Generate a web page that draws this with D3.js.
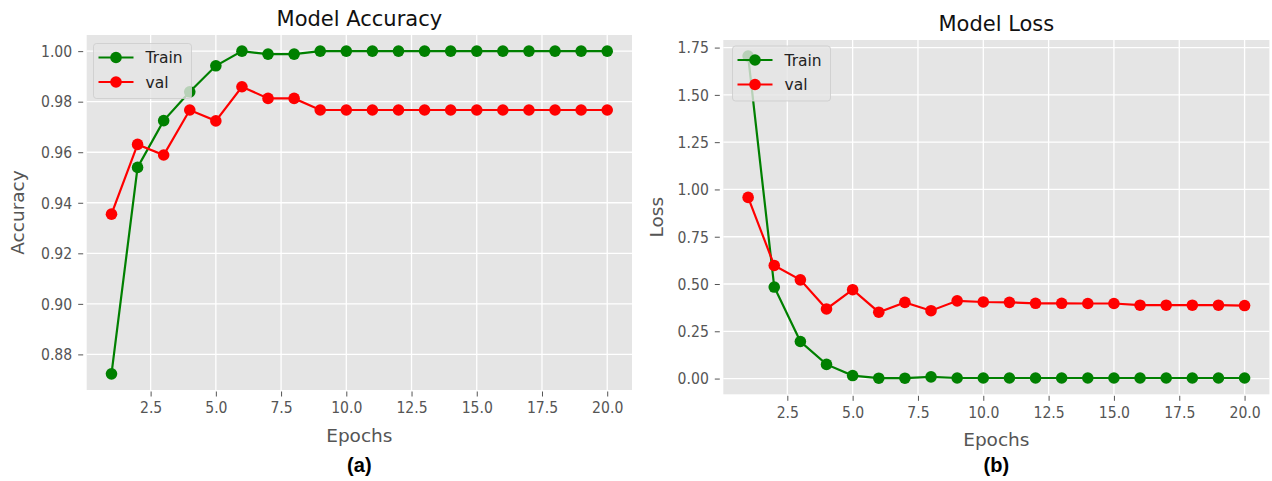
<!DOCTYPE html>
<html>
<head>
<meta charset="utf-8">
<script src="https://cdn.jsdelivr.net/npm/d3@7"></script>
<style>
  html, body { margin: 0; padding: 0; background: #fff; }
  svg { display: block; }
  text { font-family: "DejaVu Sans", sans-serif; }
</style>
</head>
<body>
<svg id="chart" width="1272" height="481"></svg>
<script>
// ---- data ----
const epochs = d3.range(1, 21);
const accTrain = [0.8723, 0.9540, 0.9725, 0.9839, 0.9942, 1.0, 0.9988, 0.9988, 1.0, 1.0,
                  1.0, 1.0, 1.0, 1.0, 1.0, 1.0, 1.0, 1.0, 1.0, 1.0];
const accVal   = [0.9355, 0.9631, 0.9589, 0.9767, 0.9724, 0.9859, 0.9813, 0.9813, 0.9767, 0.9767,
                  0.9767, 0.9767, 0.9767, 0.9767, 0.9767, 0.9767, 0.9767, 0.9767, 0.9767, 0.9767];
const lossTrain = [1.705, 0.484, 0.196, 0.075, 0.016, 0.002, 0.002, 0.009, 0.003, 0.003,
                   0.003, 0.003, 0.003, 0.003, 0.003, 0.003, 0.003, 0.003, 0.003, 0.003];
const lossVal   = [0.958, 0.598, 0.522, 0.368, 0.470, 0.351, 0.403, 0.359, 0.411, 0.405,
                   0.403, 0.398, 0.398, 0.397, 0.397, 0.388, 0.388, 0.388, 0.388, 0.386];
const xTicks = [2.5, 5.0, 7.5, 10.0, 12.5, 15.0, 17.5, 20.0];
const accTicks = [0.88, 0.90, 0.92, 0.94, 0.96, 0.98, 1.00];
const lossTicks = [0.00, 0.25, 0.50, 0.75, 1.00, 1.25, 1.50, 1.75];
const seriesNames = ["Train", "val"];
const seriesColors = ["#008000", "#ff0000"];

const svg = d3.select("#chart");

function padDomain(arr) {
  const [mn, mx] = d3.extent(arr);
  const p = (mx - mn) * 0.05;
  return [mn - p, mx + p];
}

function panel(cfg) {
  const g = svg.append("g");
  const x = d3.scaleLinear().domain(padDomain(epochs)).range([cfg.left, cfg.right]);
  const y = d3.scaleLinear().domain(padDomain(cfg.train.concat(cfg.val))).range([cfg.bottom, cfg.top]);

  // background
  g.append("rect").attr("x", cfg.left).attr("y", cfg.top)
    .attr("width", cfg.right - cfg.left).attr("height", cfg.bottom - cfg.top)
    .attr("fill", "#e5e5e5");

  // grid
  g.append("g").selectAll("line.gx").data(xTicks).join("line")
    .attr("x1", d => x(d)).attr("x2", d => x(d))
    .attr("y1", cfg.top).attr("y2", cfg.bottom)
    .attr("stroke", "#fff").attr("stroke-width", 1.3);
  g.append("g").selectAll("line.gy").data(cfg.yTicks).join("line")
    .attr("x1", cfg.left).attr("x2", cfg.right)
    .attr("y1", d => y(d)).attr("y2", d => y(d))
    .attr("stroke", "#fff").attr("stroke-width", 1.3);

  // axes
  const xa = g.append("g").attr("transform", `translate(0,${cfg.bottom + 1.5})`)
    .call(d3.axisBottom(x).tickValues(xTicks).tickFormat(d3.format(".1f")).tickSize(5).tickPadding(5));
  const ya = g.append("g").attr("transform", `translate(${cfg.left - 3.5},0)`)
    .call(d3.axisLeft(y).tickValues(cfg.yTicks).tickFormat(d3.format(".2f")).tickSize(5).tickPadding(6));
  [xa, ya].forEach(a => {
    a.select(".domain").remove();
    a.selectAll(".tick line").attr("stroke", "#555").attr("stroke-width", 1);
    a.selectAll(".tick text").attr("fill", "#555").style("font-size", "16.5px")
      .each(function() {
        const t = d3.select(this);
        const tx = +t.attr("x") || 0, ty = +t.attr("y") || 0;
        t.attr("transform", `translate(${tx},${ty}) scale(0.85,1)`).attr("x", 0).attr("y", 0);
      });
  });

  // series
  const line = d3.line().x((d, i) => x(epochs[i])).y(d => y(d));
  [cfg.train, cfg.val].forEach((s, k) => {
    g.append("path").attr("d", line(s)).attr("fill", "none")
      .attr("stroke", seriesColors[k]).attr("stroke-width", 2.2);
    g.append("g").selectAll("circle").data(s).join("circle")
      .attr("cx", (d, i) => x(epochs[i])).attr("cy", d => y(d)).attr("r", 5.8)
      .attr("fill", seriesColors[k]);
  });

  // legend
  const lg = g.append("g");
  lg.append("rect").attr("x", cfg.legX).attr("y", cfg.legY).attr("width", 98).attr("height", 55)
    .attr("rx", 3).attr("fill", "#e5e5e5").attr("fill-opacity", 0.8)
    .attr("stroke", "#cccccc").attr("stroke-opacity", 0.8).attr("stroke-width", 1);
  seriesNames.forEach((n, k) => {
    const ly = cfg.legY + 14 + k * 24.5;
    lg.append("line").attr("x1", cfg.legX + 5).attr("x2", cfg.legX + 40)
      .attr("y1", ly).attr("y2", ly).attr("stroke", seriesColors[k]).attr("stroke-width", 2.2);
    lg.append("circle").attr("cx", cfg.legX + 22.5).attr("cy", ly).attr("r", 5.8).attr("fill", seriesColors[k]);
    lg.append("text").attr("x", cfg.legX + 52).attr("y", ly + 5.5).text(n)
      .style("font-size", "15.5px").attr("fill", "#222");
  });

  // titles and labels
  const cx = (cfg.left + cfg.right) / 2;
  g.append("text").attr("x", cx).attr("y", cfg.top - 9).attr("text-anchor", "middle")
    .style("font-size", "21px").attr("fill", "#111").text(cfg.title);
  g.append("text").attr("x", cx).attr("y", cfg.xlabY).attr("text-anchor", "middle")
    .style("font-size", "18.5px").attr("fill", "#555").text("Epochs");
  g.append("text").attr("transform", `translate(${cfg.ylabX},${(cfg.top + cfg.bottom) / 2}) rotate(-90)`)
    .attr("text-anchor", "middle").style("font-size", "18.5px").attr("fill", "#555").text(cfg.ylabel);
  g.append("text").attr("x", cx).attr("y", 472).attr("text-anchor", "middle")
    .style("font-family", "'Liberation Sans', Arial, sans-serif").style("font-weight", "bold")
    .style("font-size", "20px").attr("fill", "#000").text(cfg.caption);
}

panel({ left: 86.7, right: 632, top: 35, bottom: 390, train: accTrain, val: accVal,
        yTicks: accTicks, title: "Model Accuracy", ylabel: "Accuracy", caption: "(a)",
        legX: 93.5, legY: 43.5, xlabY: 442, ylabX: 24 });
panel({ left: 723.3, right: 1269.4, top: 40, bottom: 394.3, train: lossTrain, val: lossVal,
        yTicks: lossTicks, title: "Model Loss", ylabel: "Loss", caption: "(b)",
        legX: 732.5, legY: 46, xlabY: 446, ylabX: 663 });
</script>
</body>
</html>
